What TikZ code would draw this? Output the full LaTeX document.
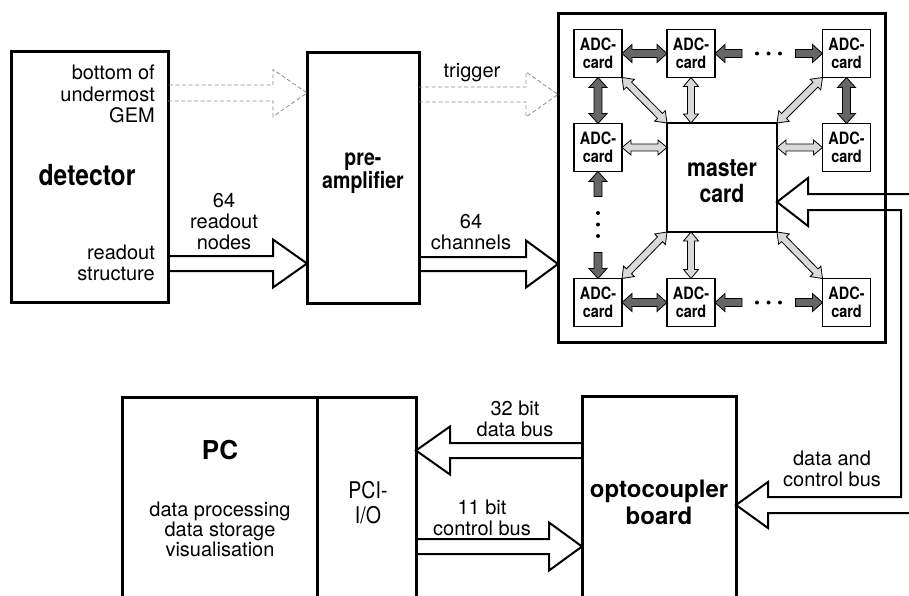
\documentclass[tikz,border=0pt]{standalone}
\usepackage{fontspec}
\setmainfont{TeX Gyre Heros}
\newfontfamily\narrowfont[FakeStretch=0.85]{TeX Gyre Heros}
\usetikzlibrary{calc}

% hollow single arrow, open at the tail: style, tail, tip, shaft half, head half, head length
\newcommand\openarrow[6]{%
  \coordinate (tmpQ) at ($(#3)!#6!(#2)$);
  \draw[#1] ($(#2)!#4!-90:(#3)$) -- ($(tmpQ)!#4!90:(#2)$) -- ($(tmpQ)!#5!90:(#2)$)
    -- (#3) -- ($(tmpQ)!#5!-90:(#2)$) -- ($(tmpQ)!#4!-90:(#2)$) -- ($(#2)!#4!90:(#3)$);}
% closed single arrow
\newcommand\solidarrow[6]{%
  \coordinate (tmpQ) at ($(#3)!#6!(#2)$);
  \draw[#1] ($(#2)!#4!-90:(#3)$) -- ($(tmpQ)!#4!90:(#2)$) -- ($(tmpQ)!#5!90:(#2)$)
    -- (#3) -- ($(tmpQ)!#5!-90:(#2)$) -- ($(tmpQ)!#4!-90:(#2)$) -- ($(#2)!#4!90:(#3)$) -- cycle;}
% closed double arrow
\newcommand\twoarrow[6]{%
  \coordinate (tmpP) at ($(#2)!#6!(#3)$);
  \coordinate (tmpQ) at ($(#3)!#6!(#2)$);
  \draw[#1] (#2) -- ($(tmpP)!#5!90:(#3)$) -- ($(tmpP)!#4!90:(#3)$) -- ($(tmpQ)!#4!-90:(#2)$)
    -- ($(tmpQ)!#5!-90:(#2)$) -- (#3) -- ($(tmpQ)!#5!90:(#2)$) -- ($(tmpQ)!#4!90:(#2)$)
    -- ($(tmpP)!#4!-90:(#3)$) -- ($(tmpP)!#5!-90:(#3)$) -- cycle;}

\begin{document}
\begin{tikzpicture}[x=1pt,y=-1pt,
  box/.style={draw, line width=3pt, inner sep=0pt, outer sep=0pt},
  mbox/.style={draw, line width=2pt, fill=white, inner sep=0pt, outer sep=0pt},
  card/.style={draw, line width=1.5pt, fill=white, minimum width=48pt, minimum height=48pt,
    inner sep=0pt, outer sep=0pt, align=center,
    font=\narrowfont\bfseries\fontsize{17}{17.5}\selectfont},
  lbl/.style={inner sep=0pt, align=center, font=\fontsize{20}{21}\selectfont},
  bus/.style={draw, line width=2pt, line join=miter},
  trig/.style={draw=black!45, line width=0.8pt, dash pattern=on 4pt off 2.5pt},
  darkarr/.style={draw=black, fill=black!60, line width=0.8pt},
  lightarr/.style={draw=black, fill=black!15, line width=0.8pt},
  dot/.style={circle, fill=black, inner sep=0pt, minimum size=4pt},
]
\useasboundingbox (0,0) rectangle (909,596);
\clip (0,0) rectangle (909,596);

% helper heights
\coordinate (yGem) at (0,93);
\coordinate (yRead) at (0,263.5);
\coordinate (yTrig) at (0,94.5);
\coordinate (yChan) at (0,264);
\coordinate (yData) at (0,450.5);
\coordinate (yCtrl) at (0,546.5);
\coordinate (yMc) at (0,202);
\coordinate (yOpto) at (0,505);

% main boxes
\node[box, minimum width=157pt, minimum height=250pt] (det) at (89.5,177) {};
\node[box, minimum width=112pt, minimum height=250pt] (pre) at (363,178) {};
\node[box, minimum width=327pt, minimum height=328pt] (adc) at (721.5,178) {};
\node[mbox, minimum width=110pt, minimum height=109pt] (mc) at (722,177.5) {};
\node[box, minimum width=195pt, minimum height=250pt] (pc) at (219.5,522) {};
\node[box, minimum width=99pt, minimum height=250pt] (pci) at (366.5,522) {};
\node[box, minimum width=154pt, minimum height=250pt] (opto) at (659,521) {};

% texts in boxes
\node[lbl, align=right, anchor=east, font=\fontsize{20}{21.5}\selectfont] (gem) at (155,94) {bottom of\\undermost\\GEM};
\node[inner sep=0pt, font=\narrowfont\bfseries\fontsize{29}{30}\selectfont] (dett) at (87,175) {detector};
\node[lbl, align=right, anchor=east] (rs) at (155,263) {readout\\structure};
\node[inner sep=0pt, align=center, font=\narrowfont\bfseries\fontsize{23}{21}\selectfont] (pret) at (363,173) {pre-\\amplifier};
\node[inner sep=0pt, align=center, font=\narrowfont\bfseries\fontsize{25}{26}\selectfont] (mct) at (722,181) {master\\card};
\node[inner sep=0pt, font=\bfseries\fontsize{26}{26}\selectfont] (pct) at (220,450) {PC};
\node[lbl, font=\fontsize{20}{20}\selectfont] (pcd) at (220,529) {data processing\\data storage\\visualisation};
\node[inner sep=0pt, align=center, font=\narrowfont\fontsize{23}{25}\selectfont] (pcit) at (368,503) {PCI-\\I/O};
\node[inner sep=0pt, align=center, font=\bfseries\fontsize{24}{27}\selectfont] (optot) at (659,502) {optocoupler\\board};

% connector labels
\node[lbl] (l64a) at (224,222) {64\\readout\\nodes};
\node[lbl] (ltrig) at (472,73) {trigger};
\node[lbl] (l64b) at (471,232) {64\\channels};
\node[lbl] (l32) at (515,419) {32 bit\\data bus};
\node[lbl] (l11) at (482,518) {11 bit\\control bus};
\node[lbl] (ldc) at (832,469) {data and\\control bus};

% ADC cards
\node[card] (c11) at (598,53.5) {ADC-\\card};
\node[card] (c12) at (691,53.5) {ADC-\\card};
\node[card] (c13) at (846.5,53.5) {ADC-\\card};
\node[card] (c21) at (598,147.5) {ADC-\\card};
\node[card] (c23) at (846.5,147.5) {ADC-\\card};
\node[card] (c31) at (598,302.5) {ADC-\\card};
\node[card] (c32) at (691,302.5) {ADC-\\card};
\node[card] (c33) at (846.5,302.5) {ADC-\\card};

% dots
\node[dot] (d1a) at (757,53.5) {};
\node[dot] (d1b) at (768.5,53.5) {};
\node[dot] (d1c) at (780,53.5) {};
\node[dot] (d3a) at (757,302.5) {};
\node[dot] (d3b) at (768.5,302.5) {};
\node[dot] (d3c) at (780,302.5) {};
\node[dot] (dva) at (598,213) {};
\node[dot] (dvb) at (598,224.5) {};
\node[dot] (dvc) at (598,236) {};

% big arrows
\coordinate (gA) at (det.east |- yGem);
\coordinate (gB) at (pre.west |- yGem);
\openarrow{trig}{gA}{gB}{8pt}{23.5pt}{34pt}
\coordinate (rA) at (det.east |- yRead);
\coordinate (rB) at (pre.west |- yRead);
\openarrow{bus}{rA}{rB}{7.5pt}{24pt}{34pt}
\coordinate (tA) at (pre.east |- yTrig);
\coordinate (tB) at (adc.west |- yTrig);
\openarrow{trig}{tA}{tB}{7.5pt}{22.5pt}{32pt}
\coordinate (cA) at (pre.east |- yChan);
\coordinate (cB) at (adc.west |- yChan);
\openarrow{bus}{cA}{cB}{7pt}{23.5pt}{32pt}
\coordinate (dA) at (opto.west |- yData);
\coordinate (dB) at (pci.east |- yData);
\openarrow{bus}{dA}{dB}{7.5pt}{24pt}{34pt}
\coordinate (kA) at (pci.east |- yCtrl);
\coordinate (kB) at (opto.west |- yCtrl);
\openarrow{bus}{kA}{kB}{7.5pt}{24pt}{33pt}

% data and control bus (U shaped)
\coordinate (mtip) at (mc.east |- yMc);
\coordinate (otip) at (opto.east |- yOpto);
\draw[bus] (mtip) ++(135,-8) -- ++(-104,0) -- ++(0,-16) -- (mtip) -- ++(31,24) -- ++(0,-16)
  -- (901,210) -- (901,497) -- ($(otip)+(32,-8)$) -- ++(0,-15) -- (otip) -- ++(32,23) -- ++(0,-15) -- ++(145,0);

% dark arrows between cards
\twoarrow{darkarr}{c11.east}{c12.west}{4pt}{9pt}{10pt}
\twoarrow{darkarr}{c31.east}{c32.west}{4pt}{9pt}{10pt}
\twoarrow{darkarr}{c11.south}{c21.north}{4pt}{9pt}{10pt}
\twoarrow{darkarr}{c13.south}{c23.north}{4pt}{9pt}{10pt}
\coordinate (t1) at ($(c12.east)+(27,0)$);
\coordinate (t2) at ($(c13.west)+(-27,0)$);
\coordinate (t3) at ($(c32.east)+(27,0)$);
\coordinate (t4) at ($(c33.west)+(-27,0)$);
\coordinate (t5) at ($(c21.south)+(0,25)$);
\coordinate (t6) at ($(c31.north)+(0,-26)$);
\solidarrow{darkarr}{t1}{c12.east}{4pt}{9pt}{10pt}
\solidarrow{darkarr}{t2}{c13.west}{4pt}{9pt}{10pt}
\solidarrow{darkarr}{t3}{c32.east}{4pt}{9pt}{10pt}
\solidarrow{darkarr}{t4}{c33.west}{4pt}{9pt}{10pt}
\solidarrow{darkarr}{t5}{c21.south}{4pt}{9pt}{10pt}
\solidarrow{darkarr}{t6}{c31.north}{4pt}{9pt}{10pt}

% light arrows to master card
\coordinate (m1) at (c21.east -| mc.west);
\coordinate (m2) at (c23.west -| mc.east);
\coordinate (m3) at (c12.south |- mc.north);
\coordinate (m4) at (c32.north |- mc.south);
\twoarrow{lightarr}{c21.east}{m1}{3.5pt}{7.5pt}{9pt}
\twoarrow{lightarr}{c23.west}{m2}{3.5pt}{7.5pt}{9pt}
\twoarrow{lightarr}{c12.south}{m3}{3.5pt}{7.5pt}{9pt}
\twoarrow{lightarr}{c32.north}{m4}{3.5pt}{7.5pt}{9pt}
\twoarrow{lightarr}{c11.south east}{mc.north west}{3.5pt}{7.5pt}{10pt}
\twoarrow{lightarr}{c13.south west}{mc.north east}{3.5pt}{7.5pt}{10pt}
\twoarrow{lightarr}{c31.north east}{mc.south west}{3.5pt}{7.5pt}{10pt}
\twoarrow{lightarr}{c33.north west}{mc.south east}{3.5pt}{7.5pt}{10pt}
\end{tikzpicture}
\end{document}
